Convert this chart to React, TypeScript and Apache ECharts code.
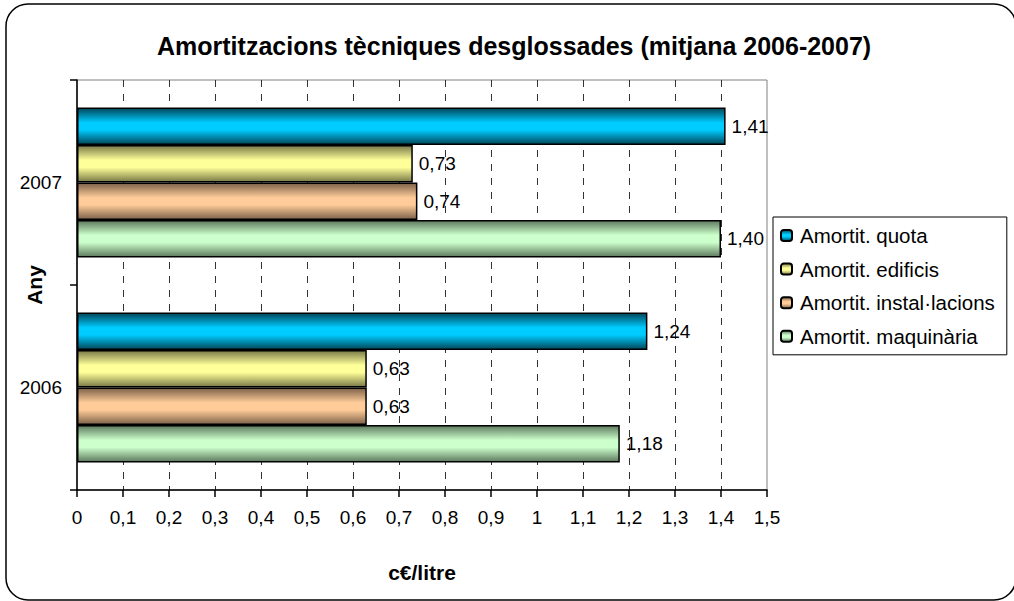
import React, { useEffect, useRef } from 'react';
import * as echarts from 'echarts';

const categories = ['2006', '2007'];
const seriesNames = ['Amortit. quota', 'Amortit. edificis', 'Amortit. instal·lacions', 'Amortit. maquinària'];
const quota = [1.24, 1.41];
const edificis = [0.63, 0.73];
const installacions = [0.63, 0.74];
const maquinaria = [1.18, 1.4];
const titleText = 'Amortitzacions tècniques desglossades (mitjana 2006-2007)';
const xName = 'c€/litre';
const yName = 'Any';

const FONT = '"Liberation Sans", Arial, sans-serif';

const palette = [
  { light: '#00CCFF', dark: '#00475A' },
  { light: '#FFFF99', dark: '#7A7A48' },
  { light: '#FFCC99', dark: '#7D6249' },
  { light: '#CCFFCC', dark: '#5E7A5E' },
];

function grad(dark: string, light: string) {
  return new echarts.graphic.LinearGradient(0, 0, 0, 1, [
    { offset: 0, color: dark },
    { offset: 0.4, color: light },
    { offset: 0.6, color: light },
    { offset: 1, color: dark },
  ]);
}

const fmt = (v: number) => String(v).replace('.', ',');

export default function App() {
  const ref = useRef<HTMLDivElement>(null);
  useEffect(() => {
    if (!ref.current) return;
    const chart = echarts.init(ref.current, undefined, { renderer: 'svg' });
    const dataSets = [quota, edificis, installacions, maquinaria];
    const series = dataSets.map((d, i) => ({
      name: seriesNames[i],
      type: 'bar',
      data: d,
      barWidth: 37.5,
      barGap: '0%',
      itemStyle: {
        color: grad(palette[i].dark, palette[i].light),
        borderColor: '#000',
        borderWidth: 1.5,
      },
      label: {
        show: true,
        position: 'right',
        distance: 6,
        color: '#000',
        fontFamily: FONT,
        fontSize: 19,
        formatter: (p: any) => Number(p.value).toFixed(2).replace('.', ','),
      },
    }));
    chart.setOption({
      animation: false,
      backgroundColor: '#fff',
      title: {
        text: titleText,
        left: 152,
        top: 28,
        textStyle: { fontFamily: FONT, fontSize: 25, fontWeight: 'bold', color: '#000' },
      },
      graphic: [
        {
          type: 'rect',
          shape: { x: 6, y: 4, width: 1010, height: 596, r: 22 },
          style: { fill: 'none', stroke: '#000', lineWidth: 1.5 },
          silent: true,
          z: 100,
        },
      ],
      legend: {
        orient: 'vertical',
        left: 773,
        top: 217,
        data: seriesNames,
        padding: [8, 12, 8, 7],
        itemGap: 12.6,
        itemWidth: 11,
        itemHeight: 11,
        borderColor: '#000',
        borderWidth: 1,
        borderRadius: 0,
        textStyle: { fontFamily: FONT, fontSize: 20.5, color: '#000', lineHeight: 20, padding: [0, 0, 0, 3] },
      },
      grid: {
        left: 77,
        top: 80,
        width: 690,
        height: 410,
        show: true,
        borderColor: '#808080',
        borderWidth: 1,
        backgroundColor: '#fff',
        containLabel: false,
        outerBoundsMode: 'none',
      },
      xAxis: {
        type: 'value',
        min: 0,
        max: 1.5,
        interval: 0.1,
        name: xName,
        nameLocation: 'middle',
        nameGap: 72,
        nameMoveOverlap: false,
        nameTextStyle: { fontFamily: FONT, fontSize: 21, fontWeight: 'bold', color: '#000', verticalAlign: 'top' },
        axisLine: { show: true, lineStyle: { color: '#000', width: 1.5 } },
        axisTick: { show: true, length: 7, lineStyle: { color: '#000', width: 1.5 } },
        axisLabel: { fontFamily: FONT, fontSize: 19, color: '#000', margin: 18, formatter: (v: number) => fmt(v) },
        splitLine: { show: true, showMinLine: false, showMaxLine: false, lineStyle: { color: '#333', type: [7, 7], width: 1 } },
      },
      yAxis: {
        type: 'category',
        data: categories,
        name: yName,
        nameLocation: 'middle',
        nameRotate: 90,
        nameGap: 32,
        nameMoveOverlap: false,
        nameTextStyle: { fontFamily: FONT, fontSize: 21, fontWeight: 'bold', color: '#000' },
        axisLine: { show: true, lineStyle: { color: '#000', width: 1.5 } },
        axisTick: { show: true, length: 7, lineStyle: { color: '#000', width: 1.5 } },
        axisLabel: { fontFamily: FONT, fontSize: 19, color: '#000', margin: 15 },
        splitLine: { show: false },
      },
      series,
    });
    return () => chart.dispose();
  }, []);
  return <div ref={ref} style={{ position: 'fixed', left: 0, top: 0, width: 1014, height: 601 }} />;
}
